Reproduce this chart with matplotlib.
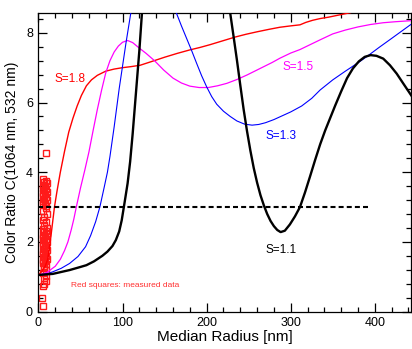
import matplotlib
matplotlib.use("Agg")
import matplotlib.pyplot as plt
from matplotlib.ticker import MultipleLocator

plt.rcParams['font.family'] = ['Liberation Sans', 'DejaVu Sans']

# colour ratio C(1064, 532) vs. median radius [nm] for lognormal widths S
r_s11 = [0, 17, 37, 50, 57, 66, 76, 82, 88, 92, 96, 99, 101, 103, 106, 109, 112, 116, 120, 123, 126,
         140, 160, 185, 210, 222,
         228, 232, 236, 240, 244, 248, 252, 256, 260, 264, 268, 272, 276, 280, 284, 288,
         293, 299, 305, 311, 317, 323, 329, 335, 341, 347, 353, 360, 367, 374, 381, 388,
         395, 402, 410, 418, 426, 434, 444]
c_s11 = [1.05, 1.08, 1.19, 1.28, 1.33, 1.44, 1.6, 1.72, 1.88, 2.05, 2.3, 2.62, 2.92, 3.22, 3.68, 4.3, 5.1, 6.3, 7.5, 8.55, 9.5,
         11.3, 12.2, 12.0, 10.8, 9.7,
         8.57, 7.9, 7.22, 6.5, 5.8, 5.18, 4.62, 4.12, 3.7, 3.34, 3.05, 2.8, 2.6, 2.45, 2.34, 2.28,
         2.32, 2.5, 2.73, 3.0, 3.42, 3.88, 4.35, 4.8, 5.2, 5.56, 5.92, 6.32, 6.7, 6.98, 7.18, 7.31,
         7.36, 7.34, 7.26, 7.07, 6.83, 6.54, 6.18]

r_s13 = [0, 10, 17, 27, 37, 47, 56, 62, 68, 73, 78, 82, 85, 90, 96, 100, 104, 108, 111,
         118, 130, 145, 156,
         164, 170, 176, 182, 188, 194, 200, 206, 212, 220, 228, 236, 245, 254, 262, 270,
         280, 290, 300, 313, 325, 335, 350, 365, 380, 390, 405, 420, 432, 444]
c_s13 = [1.05, 1.08, 1.14, 1.24, 1.38, 1.58, 1.86, 2.18, 2.58, 3.0, 3.55, 4.0, 4.45, 5.3, 6.4, 7.05, 7.7, 8.3, 8.75,
         9.6, 10.3, 10.2, 9.4,
         8.57, 8.2, 7.85, 7.5, 7.13, 6.77, 6.45, 6.17, 5.95, 5.75, 5.6, 5.47, 5.38, 5.35, 5.37, 5.42,
         5.51, 5.62, 5.73, 5.9, 6.12, 6.36, 6.65, 6.9, 7.14, 7.31, 7.58, 7.84, 8.05, 8.26]

r_s15 = [0, 10, 20, 26, 31, 35, 39, 42, 45, 50, 55, 60, 65, 70, 75, 80, 85, 90, 95, 100,
         106, 112, 120, 128, 138, 149, 160, 170, 180, 191, 202, 213, 224, 236, 248, 258,
         268, 278, 287, 300, 311, 323, 335, 350, 365, 380, 395, 410, 425, 444]
c_s15 = [1.05, 1.12, 1.3, 1.5, 1.75, 2.0, 2.35, 2.65, 3.0, 3.55, 4.05, 4.58, 5.2, 5.8, 6.35, 6.85, 7.2, 7.45, 7.62, 7.73,
         7.78, 7.72, 7.56, 7.41, 7.2, 6.93, 6.7, 6.56, 6.47, 6.43, 6.43, 6.48, 6.55, 6.66, 6.79, 6.91,
         7.03, 7.15, 7.27, 7.42, 7.52, 7.66, 7.8, 7.97, 8.08, 8.17, 8.24, 8.29, 8.32, 8.35]

r_s18 = [0, 4, 8, 11, 14, 17, 19, 22, 26, 31, 36, 41, 46, 51, 57, 63, 70, 80, 90, 100,
         110, 121, 135, 150, 165, 180, 192, 204, 219, 234, 247, 260, 274, 287, 300, 311,
         318, 326, 335, 345, 355, 363, 371]
c_s18 = [1.05, 1.15, 1.3, 1.5, 2.0, 2.6, 3.0, 3.45, 4.0, 4.6, 5.15, 5.55, 5.9, 6.2, 6.48, 6.65, 6.78, 6.9, 6.96, 7.0,
         7.03, 7.07, 7.18, 7.3, 7.41, 7.51, 7.58, 7.66, 7.77, 7.88, 7.96, 8.03, 8.1, 8.16, 8.2, 8.23,
         8.3, 8.36, 8.41, 8.45, 8.5, 8.54, 8.58]

# measured colour ratios, plotted near the left edge
meas_r = [5, 8.5, 6.5, 10, 5.5, 7.5, 5, 8.5, 6.5, 10, 5.5, 7.5, 5, 8.5, 6.5, 10, 5.5, 7.5, 5, 8.5,
          8.5, 5.5, 10, 7, 5, 9, 6, 10,
          5, 8.5, 6.5, 10, 5.5, 7.5, 5, 8.5, 6.5, 10, 5.5, 7.5, 5, 8.5, 6.5, 10, 5.5, 7.5,
          5, 8.5, 6.5, 10, 5.5, 7.5, 5, 8.5, 6.5,
          7, 9.5, 5.5, 8.5, 6, 9.5, 7, 5.5,
          4.5, 5.4, 9.3]
meas_c = [3.80, 3.76, 3.72, 3.68, 3.64, 3.60, 3.56, 3.52, 3.48, 3.44, 3.40, 3.36, 3.32, 3.28, 3.24, 3.20, 3.16, 3.12, 3.08, 3.04,
          2.96, 2.88, 2.80, 2.72, 2.64, 2.56, 2.48, 2.40,
          2.36, 2.32, 2.28, 2.24, 2.20, 2.16, 2.12, 2.08, 2.04, 2.00, 1.96, 1.92, 1.88, 1.84, 1.80, 1.76, 1.72, 1.68,
          1.64, 1.60, 1.56, 1.52, 1.48, 1.44, 1.40, 1.36, 1.32,
          1.26, 1.18, 1.10, 1.02, 0.95, 0.88, 0.80, 0.72,
          0.38, 0.16, 4.56]

threshold = 3.0
threshold_r = [0, 396]

fig = plt.figure(figsize=(4.12, 3.49), dpi=100)
ax = fig.add_axes([0.0934, 0.1074, 0.9041, 0.8554])

ax.plot(meas_r, meas_c, 's', ms=4.9, mfc='none', mec='#ff1a1a', mew=1.0, zorder=2)
ax.plot(r_s18, c_s18, color='#ff0000', lw=1.0, zorder=3)
ax.plot(r_s15, c_s15, color='#ff00ff', lw=0.9, zorder=3)
ax.plot(r_s13, c_s13, color='#0000ff', lw=0.8, zorder=3)
ax.plot(r_s11, c_s11, color='black', lw=1.7, zorder=4)
ax.plot(threshold_r, [threshold, threshold], color='black', lw=1.5,
        linestyle=(0, (2.4, 1.5)), zorder=4)

ax.text(19.5, 6.68, 'S=1.8', color='#ff0000', fontsize=8.5, va='center')
ax.text(290, 7.03, 'S=1.5', color='#ff00ff', fontsize=8.5, va='center')
ax.text(269.5, 5.04, 'S=1.3', color='#0000ff', fontsize=8.5, va='center')
ax.text(269.5, 1.76, 'S=1.1', color='black', fontsize=8.5, va='center')
ax.text(39, 0.75, 'Red squares: measured data', color='#ff3030', fontsize=6, va='center')

ax.set_xlim(0, 443)
ax.set_ylim(0, 8.57)
ax.xaxis.set_major_locator(MultipleLocator(100))
ax.xaxis.set_minor_locator(MultipleLocator(20))
ax.yaxis.set_major_locator(MultipleLocator(2))
ax.yaxis.set_minor_locator(MultipleLocator(0.4))
ax.tick_params(which='both', direction='in', top=True, right=True, labelsize=9, width=0.9)
ax.tick_params(which='major', length=6.5, pad=4)
ax.tick_params(which='minor', length=3.5)
for sp in ax.spines.values():
    sp.set_linewidth(0.9)

ax.set_xlabel('Median Radius [nm]', fontsize=11, labelpad=1)
ax.set_ylabel('Color Ratio C(1064 nm, 532 nm)', fontsize=10, labelpad=5)

fig.savefig('out.png', dpi=100)
